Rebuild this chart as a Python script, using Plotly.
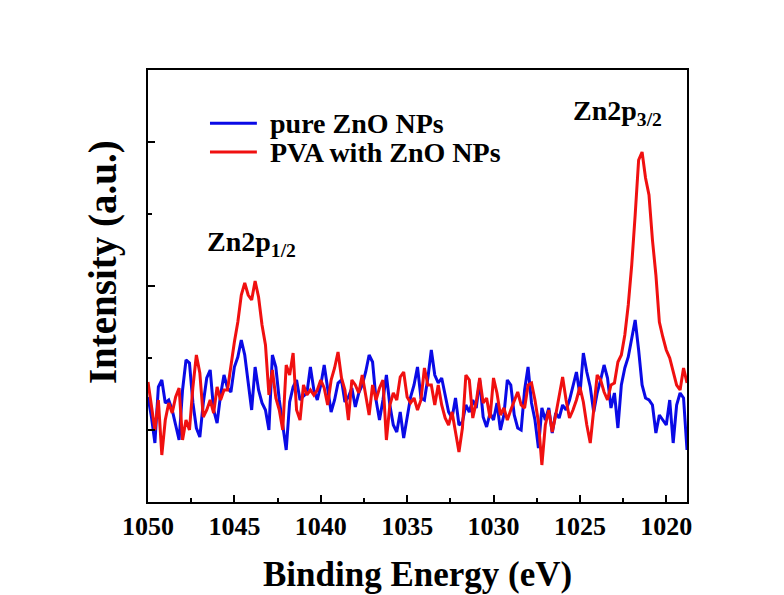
import numpy as np
import plotly.graph_objects as go

# Binding energy scan grid (eV), 0.2 eV step from 1050 eV downward
e_start = 1050.0
e_step = 0.2
n_pts = 157
energy = np.round(e_start - e_step * np.arange(n_pts), 1)

# Zn 2p region intensities (a.u.)
pure_zno = [
    105, 85, 59, 115, 122, 99, 102, 92, 77, 62,
    112, 142, 139, 99, 74, 65, 99, 124, 132, 92,
    79, 107, 127, 114, 110, 135, 145, 162, 147, 117,
    92, 135, 112, 99, 92, 72, 147, 135, 102, 77,
    52, 100, 115, 122, 102, 106, 109, 135, 112, 102,
    117, 137, 112, 90, 102, 119, 122, 100, 105, 114,
    95, 109, 117, 130, 147, 140, 102, 82, 102, 127,
    97, 77, 70, 90, 64, 85, 105, 117, 135, 104,
    102, 124, 152, 127, 119, 124, 107, 90, 84, 104,
    77, 80, 97, 90, 102, 94, 122, 85, 75, 89,
    82, 99, 72, 87, 122, 117, 87, 74, 72, 112,
    135, 99, 82, 54, 94, 82, 94, 69, 89, 84,
    97, 92, 102, 117, 130, 107, 149, 130, 115, 90,
    109, 122, 137, 124, 94, 109, 74, 117, 134, 145,
    162, 182, 152, 117, 104, 102, 97, 69, 87, 82,
    77, 102, 59, 97, 109, 104, 52,
]

pva_zno = [
    120, 97, 72, 102, 47, 82, 99, 89, 105, 114,
    62, 82, 72, 115, 147, 129, 85, 92, 102, 89,
    115, 102, 112, 112, 137, 160, 180, 207, 219, 207,
    202, 221, 205, 177, 157, 107, 132, 104, 92, 72,
    137, 127, 149, 92, 82, 117, 107, 112, 107, 112,
    122, 114, 97, 122, 134, 150, 124, 112, 82, 122,
    117, 109, 127, 107, 87, 117, 102, 114, 122, 62,
    97, 109, 102, 125, 130, 105, 99, 104, 92, 102,
    134, 117, 117, 97, 117, 97, 84, 77, 90, 70,
    50, 74, 127, 122, 84, 100, 124, 99, 104, 84,
    124, 109, 87, 94, 82, 92, 102, 110, 97, 94,
    117, 119, 102, 80, 37, 77, 92, 70, 87, 107,
    125, 102, 84, 92, 102, 115, 100, 77, 59, 92,
    127, 122, 110, 102, 117, 119, 140, 147, 167, 197,
    237, 287, 342, 350, 324, 307, 262, 227, 180, 165,
    152, 144, 129, 117, 112, 134, 119,
]

series_names = ["pure ZnO NPs", "PVA with ZnO NPs"]
series_colors = ["#0a0ae6", "#f01010"]

x_ticks = [1050, 1045, 1040, 1035, 1030, 1025, 1020]
x_minor = [1047.5, 1042.5, 1037.5, 1032.5, 1027.5, 1022.5]
y_ticks = [72, 216, 360]
y_minor = [144, 288]

font_family = "Liberation Serif"

fig = go.Figure()
for name, color, vals in zip(series_names, series_colors, [pure_zno, pva_zno]):
    fig.add_trace(go.Scatter(
        x=energy, y=vals, mode="lines", name=name,
        line=dict(color=color, width=3), showlegend=False,
    ))

# Key: short coloured line segments with bold labels, top-left inside the frame
key_rows_y = [0.877, 0.810]
for name, color, ky in zip(series_names, series_colors, key_rows_y):
    fig.add_shape(type="line", xref="paper", yref="paper",
                  x0=0.115, x1=0.202, y0=ky, y1=ky,
                  line=dict(color=color, width=3))
    fig.add_annotation(xref="paper", yref="paper", x=0.222, y=ky,
                       xanchor="left", yanchor="middle", showarrow=False,
                       text=f"<b>{name}</b>",
                       font=dict(family=font_family, size=28, color="black"))

# Peak labels
fig.add_annotation(x=1044.0, y=259, text="<b>Zn2p<sub>1/2</sub></b>",
                   showarrow=False, font=dict(family=font_family, size=28, color="black"))
fig.add_annotation(x=1022.85, y=390, text="<b>Zn2p<sub>3/2</sub></b>",
                   showarrow=False, font=dict(family=font_family, size=28, color="black"))

# Axis titles
fig.add_annotation(xref="paper", yref="paper", x=-0.083, y=0.556,
                   xanchor="center", yanchor="middle", textangle=-90,
                   showarrow=False, text="<b>Intensity (a.u.)</b>",
                   font=dict(family=font_family, size=39, color="black"))
fig.add_annotation(xref="paper", yref="paper", x=0.5, y=-0.168,
                   xanchor="center", yanchor="middle",
                   showarrow=False, text="<b>Binding Energy (eV)</b>",
                   font=dict(family=font_family, size=35, color="black"))

fig.update_layout(
    width=784, height=595,
    margin=dict(l=148, r=97, t=70, b=93, autoexpand=False),
    paper_bgcolor="white", plot_bgcolor="white",
    font=dict(family=font_family, color="black"),
    showlegend=False,
    xaxis=dict(
        range=[1050, 1018.8], automargin=False,
        tickvals=x_ticks, ticktext=[str(t) for t in x_ticks],
        ticks="inside", ticklen=7, tickwidth=2, tickcolor="black",
        minor=dict(tickvals=x_minor, ticks="inside", ticklen=4, tickwidth=2, tickcolor="black"),
        showline=True, linewidth=2, linecolor="black", mirror=True,
        showgrid=False, zeroline=False,
        tickfont=dict(family=font_family, size=26, color="black", weight="bold"),
    ),
    yaxis=dict(
        range=[0, 432], automargin=False,
        tickvals=y_ticks, showticklabels=False,
        ticks="inside", ticklen=7, tickwidth=2, tickcolor="black",
        minor=dict(tickvals=y_minor, ticks="inside", ticklen=4, tickwidth=2, tickcolor="black"),
        showline=True, linewidth=2, linecolor="black", mirror=True,
        showgrid=False, zeroline=False,
    ),
)

fig.write_html("out.html")
